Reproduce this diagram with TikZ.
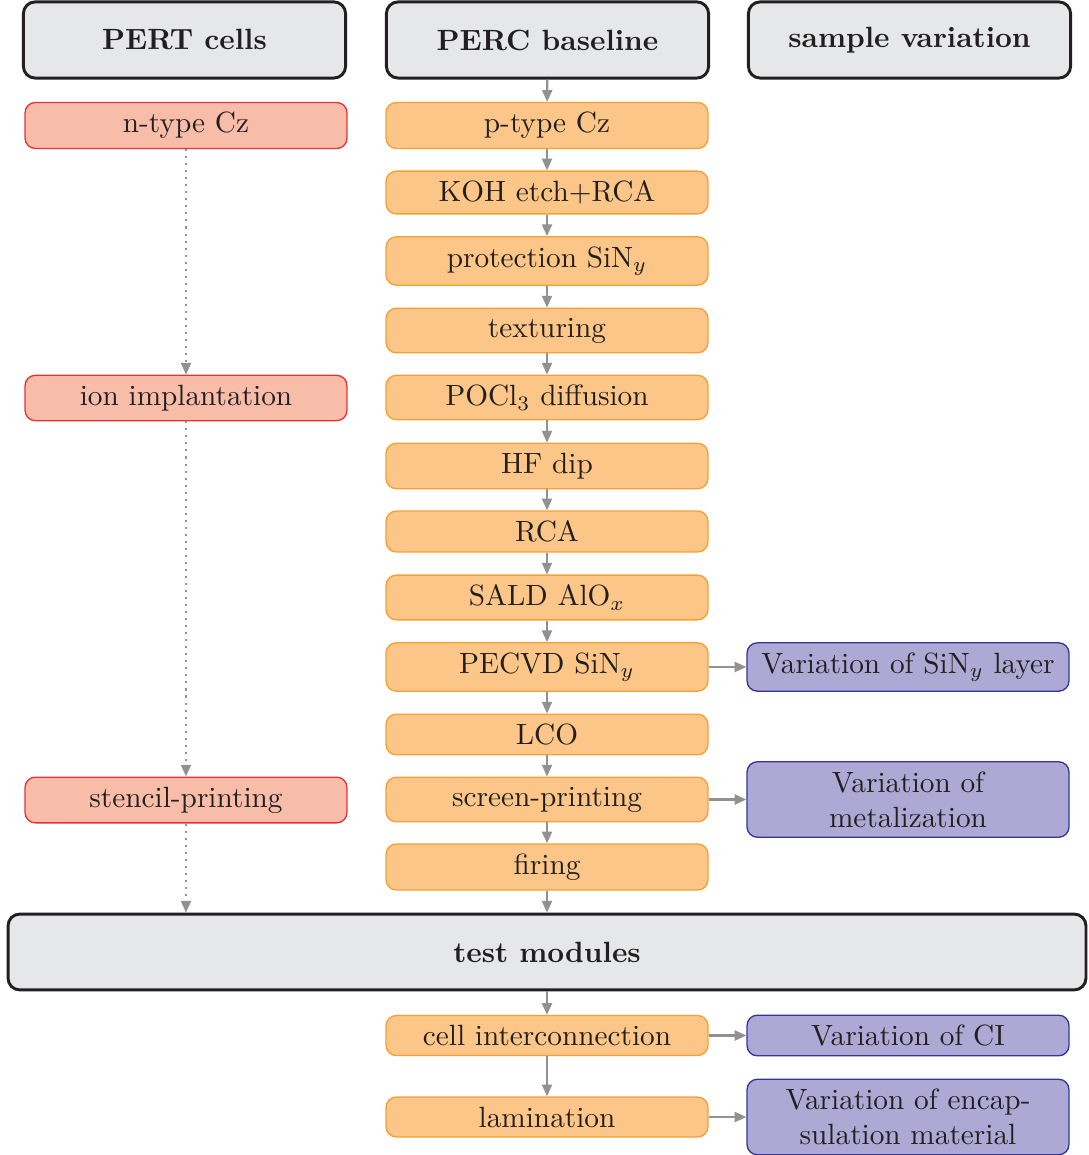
\documentclass[tikz,border=0pt]{standalone}
\usetikzlibrary{arrows.meta}
\definecolor{hdrfill}{HTML}{E6E7E8}
\definecolor{hdrdraw}{HTML}{231F20}
\definecolor{ofill}{HTML}{FBC688}
\definecolor{odraw}{HTML}{F5A032}
\definecolor{rfill}{HTML}{F8BDA9}
\definecolor{rdraw}{HTML}{E8303A}
\definecolor{bfill}{HTML}{ADA9D4}
\definecolor{bdraw}{HTML}{34349A}
\definecolor{arrgray}{HTML}{919191}
\definecolor{txt}{HTML}{231F20}
\begin{document}
\begin{tikzpicture}[x=0.3414pt,y=-0.3414pt,
  hdr/.style={draw=hdrdraw, line width=1pt, fill=hdrfill, rounded corners=4pt,
    minimum width=110pt, minimum height=26pt, font=\bfseries, text=txt},
  basebox/.style={rounded corners=3.5pt, line width=0.45pt, minimum width=109.9pt,
    inner ysep=3.3pt, align=center, text=txt},
  ostep/.style={basebox, draw=odraw, fill=ofill},
  rstep/.style={basebox, draw=rdraw, fill=rfill},
  bstep/.style={basebox, draw=bdraw, fill=bfill},
  arr/.style={draw=arrgray, line width=0.7pt, -{Triangle[length=4pt,width=3.4pt]}},
  dotarr/.style={arr, dash pattern=on 0.7pt off 1.7pt}
]
\useasboundingbox (0,0) rectangle (1088,1155);
% headers
\node[hdr] (h1) at (184.5,40) {PERT cells};
\node[hdr] (h2) at (547.5,40) {PERC baseline};
\node[hdr] (h3) at (909.5,40) {sample variation};
% PERC column
\node[ostep] (p)   at (547,125.5) {p-type Cz};
\node[ostep] (koh) at (547,192.5) {KOH etch+RCA};
\node[ostep] (prot) at (547,261) {protection SiN$_y$};
\node[ostep] (tex) at (547,330.5) {texturing};
\node[ostep] (pocl) at (547,397.5) {POCl$_3$ diffusion};
\node[ostep] (hf) at (547,466) {HF dip};
\node[ostep] (rca) at (547,531.5) {RCA};
\node[ostep] (sald) at (547,597.5) {SALD AlO$_x$};
\node[ostep] (pecvd) at (547,667) {PECVD SiN$_y$};
\node[ostep] (lco) at (547,734.5) {LCO};
\node[ostep] (scr) at (547,799.5) {screen-printing};
\node[ostep] (fir) at (547,867) {firing};
\node[hdr, minimum width=368pt, minimum height=25.9pt] (tm) at (547,952) {test modules};
\node[ostep] (ci) at (547,1035.5) {cell interconnection};
\node[ostep] (lam) at (547,1117) {lamination};
% PERT column
\node[rstep] (n) at (186,125.5) {n-type Cz};
\node[rstep] (ion) at (186,398) {ion implantation};
\node[rstep] (sten) at (186,800) {stencil-printing};
% variation column
\node[bstep] (v1) at (908,667) {Variation of SiN$_y$ layer};
\node[bstep] (v2) at (908,799.5) {Variation of\\metalization};
\node[bstep] (v3) at (908,1035.5) {Variation of CI};
\node[bstep] (v4) at (908,1117) {Variation of encap-\\sulation material};
% vertical arrows
\draw[arr] (h2) -- (p);
\draw[arr] (p) -- (koh);
\draw[arr] (koh) -- (prot);
\draw[arr] (prot) -- (tex);
\draw[arr] (tex) -- (pocl);
\draw[arr] (pocl) -- (hf);
\draw[arr] (hf) -- (rca);
\draw[arr] (rca) -- (sald);
\draw[arr] (sald) -- (pecvd);
\draw[arr] (pecvd) -- (lco);
\draw[arr] (lco) -- (scr);
\draw[arr] (scr) -- (fir);
\draw[arr] (fir) -- (tm);
\draw[arr] (tm) -- (ci);
\draw[arr] (ci) -- (lam);
% dotted
\draw[dotarr] (n) -- (ion);
\draw[dotarr] (ion) -- (sten);
\draw[dotarr] (sten.south) -- (sten.south |- tm.north);
% horizontal
\draw[arr] (pecvd) -- (v1);
\draw[arr] (scr) -- (v2);
\draw[arr] (ci) -- (v3);
\draw[arr] (lam) -- (v4);
\end{tikzpicture}
\end{document}
